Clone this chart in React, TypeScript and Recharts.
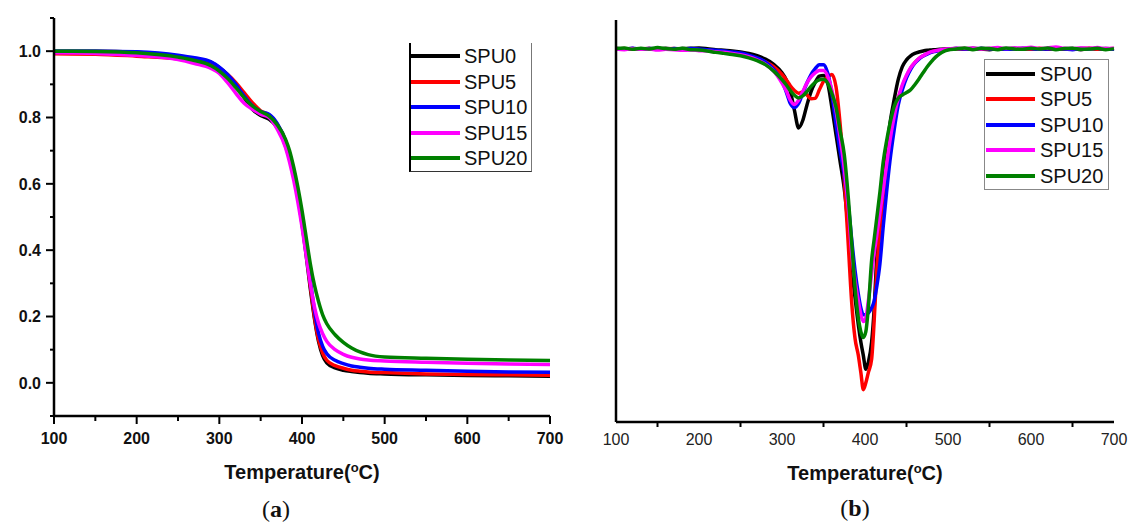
import { LineChart, Line, XAxis, YAxis, Legend } from "recharts";

const seriesNames = ["SPU0", "SPU5", "SPU10", "SPU15", "SPU20"];
const seriesColors = ["#000000", "#ff0000", "#0000ff", "#ff00ff", "#008000"];

// (a) TGA, residual mass fraction
const tgaTemps = [
  100, 150, 200, 250, 270, 290, 300, 310, 320, 330, 340, 350, 360, 370, 380,
  385, 390, 395, 400, 405, 410, 415, 420, 425, 430, 440, 450, 460, 470, 480,
  500, 550, 600, 650, 700,
];
const tgaSPU0 = [
  1.0, 1.0, 0.997, 0.985, 0.977, 0.966, 0.95, 0.928, 0.898, 0.86, 0.825, 0.806, 0.795, 0.77, 0.715,
  0.675, 0.625, 0.56, 0.48, 0.385, 0.285, 0.195, 0.125, 0.082, 0.06, 0.045, 0.038, 0.034, 0.031, 0.029,
  0.027, 0.024, 0.022, 0.021, 0.02,
];
const tgaSPU5 = [
  0.992, 0.991, 0.985, 0.977, 0.97, 0.958, 0.948, 0.93, 0.905, 0.875, 0.845, 0.82, 0.808, 0.78, 0.73,
  0.69, 0.64, 0.575, 0.495, 0.4, 0.295, 0.2, 0.13, 0.09, 0.068, 0.052, 0.044, 0.038, 0.035, 0.033,
  0.031, 0.027, 0.025, 0.024, 0.023,
];
const tgaSPU10 = [
  1.0, 1.0, 0.998, 0.988, 0.98, 0.968, 0.952, 0.93, 0.9, 0.865, 0.835, 0.818, 0.81, 0.782, 0.73,
  0.685, 0.635, 0.57, 0.495, 0.405, 0.31, 0.22, 0.15, 0.11, 0.088, 0.068, 0.058, 0.051, 0.047, 0.044,
  0.041, 0.038, 0.035, 0.033, 0.032,
];
const tgaSPU15 = [
  0.995, 0.993, 0.987, 0.975, 0.963, 0.948, 0.933, 0.905, 0.873, 0.843, 0.825, 0.81, 0.8, 0.765, 0.71,
  0.665, 0.61, 0.545, 0.47, 0.385, 0.3, 0.23, 0.18, 0.148, 0.125, 0.1, 0.086, 0.077, 0.072, 0.069,
  0.066, 0.062, 0.059, 0.057, 0.055,
];
const tgaSPU20 = [
  1.0, 0.999, 0.995, 0.982, 0.972, 0.956, 0.94, 0.918, 0.89, 0.86, 0.835, 0.818, 0.805, 0.778, 0.735,
  0.7, 0.65, 0.59, 0.52, 0.44, 0.36, 0.295, 0.245, 0.205, 0.178, 0.145, 0.122, 0.105, 0.093, 0.085,
  0.078, 0.074, 0.071, 0.069, 0.067,
];

// (b) DTG, derivative (arbitrary units, no scale shown)
const dtgTemps = [
  100, 110, 120, 130, 140, 150, 160, 170, 180, 190, 200, 210, 220, 230, 240, 250, 260, 270, 280, 290, 300,
  305, 310, 315, 320, 325, 330, 335, 340, 345, 350, 355, 360, 365, 370, 375, 380,
  384, 388, 392, 395, 398, 401, 404, 408, 411, 414, 418, 422, 426, 430,
  435, 440, 445, 450, 455, 460, 465, 470, 475, 480, 485, 490, 495, 500,
  510, 520, 530, 540, 550, 560, 570, 580, 590, 600, 610, 620, 630, 640, 650, 660, 670, 680, 690, 700,
];
const dtgSPU0 = [
  0.002, 0.0, 0.001, -0.001, 0.001, 0.0, 0.002, 0.0, 0.001, 0.002, 0.003, 0.001, -0.002, -0.004, -0.006, -0.009, -0.013, -0.02, -0.03, -0.045, -0.07,
  -0.09, -0.125, -0.18, -0.232, -0.21, -0.165, -0.125, -0.098, -0.08, -0.078, -0.1, -0.17, -0.25, -0.33, -0.41, -0.53,
  -0.64, -0.73, -0.81, -0.86, -0.9, -0.94, -0.92, -0.86, -0.765, -0.62, -0.51, -0.4, -0.3, -0.22,
  -0.15, -0.09, -0.052, -0.032, -0.02, -0.013, -0.009, -0.006, -0.004, -0.003, -0.002, -0.001, 0.0, 0.0,
  0.001, -0.001, 0.002, 0.0, -0.002, 0.001, 0.0, 0.002, -0.001, 0.001, 0.0, -0.001, 0.002, 0.0, 0.001, -0.002, 0.001, 0.0, 0.001, 0.0,
];
const dtgSPU5 = [
  0.0, 0.001, -0.001, 0.0, 0.001, -0.001, 0.0, 0.001, -0.001, 0.0, -0.002, -0.004, -0.007, -0.01, -0.013, -0.016, -0.021, -0.028, -0.038, -0.052, -0.075,
  -0.09, -0.108, -0.122, -0.13, -0.126, -0.135, -0.146, -0.145, -0.12, -0.095, -0.082, -0.075, -0.11, -0.22, -0.38, -0.58,
  -0.745, -0.85, -0.9, -0.95, -1.0, -0.98, -0.95, -0.91, -0.8, -0.66, -0.53, -0.43, -0.34, -0.27,
  -0.2, -0.145, -0.11, -0.08, -0.056, -0.04, -0.028, -0.02, -0.014, -0.009, -0.006, -0.004, -0.002, -0.001,
  0.0, 0.001, -0.001, 0.001, 0.0, 0.002, -0.001, 0.0, 0.001, -0.001, 0.002, 0.0, 0.001, -0.001, 0.0, 0.001, 0.002, -0.001, 0.0, 0.001,
];
const dtgSPU10 = [
  0.001, -0.001, 0.002, 0.0, 0.001, 0.0, -0.001, 0.001, 0.0, 0.001, 0.0, -0.002, -0.004, -0.006, -0.009, -0.012, -0.018, -0.026, -0.038, -0.06, -0.095,
  -0.125, -0.16, -0.172, -0.16, -0.13, -0.1, -0.075, -0.058, -0.046, -0.046, -0.07, -0.13, -0.22, -0.3, -0.37, -0.46,
  -0.56, -0.65, -0.72, -0.76, -0.78, -0.78, -0.775, -0.76, -0.74, -0.7, -0.63, -0.52, -0.42, -0.33,
  -0.24, -0.165, -0.12, -0.085, -0.06, -0.042, -0.03, -0.021, -0.015, -0.01, -0.007, -0.004, -0.002, -0.001,
  0.001, 0.0, -0.001, 0.002, 0.0, 0.001, -0.001, 0.0, 0.002, 0.001, -0.001, 0.0, 0.001, 0.0, -0.002, 0.001, 0.0, 0.002, -0.001, 0.0,
];
const dtgSPU15 = [
  0.0, -0.002, 0.001, -0.001, 0.0, -0.003, -0.001, -0.002, -0.004, -0.003, -0.005, -0.006, -0.008, -0.01, -0.013, -0.017, -0.023, -0.032, -0.045, -0.065, -0.1,
  -0.122, -0.15, -0.163, -0.15, -0.125, -0.1, -0.082, -0.07, -0.063, -0.063, -0.08, -0.12, -0.18, -0.26, -0.35, -0.47,
  -0.6, -0.68, -0.74, -0.78, -0.8, -0.79, -0.74, -0.66, -0.6, -0.55, -0.48, -0.41, -0.34, -0.27,
  -0.2, -0.145, -0.105, -0.077, -0.055, -0.04, -0.028, -0.02, -0.013, -0.008, -0.005, -0.003, -0.001, 0.0,
  0.002, 0.001, 0.003, 0.0, 0.002, 0.004, 0.001, 0.003, 0.002, 0.005, 0.001, 0.003, 0.006, 0.002, 0.001, 0.003, 0.002, 0.004, 0.001, 0.002,
];
const dtgSPU20 = [
  0.001, 0.003, -0.001, 0.002, 0.0, 0.004, 0.001, -0.001, 0.002, -0.002, -0.003, -0.006, -0.01, -0.013, -0.016, -0.02, -0.026, -0.034, -0.046, -0.065, -0.09,
  -0.105, -0.122, -0.136, -0.144, -0.138, -0.125, -0.11, -0.098, -0.091, -0.089, -0.1, -0.13, -0.17, -0.24, -0.31, -0.44,
  -0.57, -0.7, -0.79, -0.83, -0.847, -0.83, -0.76, -0.62, -0.56, -0.5, -0.42, -0.33, -0.27, -0.22,
  -0.17, -0.145, -0.135, -0.128, -0.12, -0.105, -0.088, -0.07, -0.052, -0.037, -0.024, -0.014, -0.007, -0.003,
  0.0, 0.003, -0.002, 0.002, 0.001, -0.002, 0.003, 0.0, -0.001, 0.002, 0.0, 0.003, -0.002, 0.001, 0.002, -0.001, 0.0, 0.002, -0.002, 0.001,
];

const tempTicks = [100, 150, 200, 250, 300, 350, 400, 450, 500, 550, 600, 650, 700];
const tgaYTicks = [-0.1, 0, 0.1, 0.2, 0.3, 0.4, 0.5, 0.6, 0.7, 0.8, 0.9, 1.0, 1.1];
const tgaYLabels = ["0.0", "0.2", "0.4", "0.6", "0.8", "1.0"];

const tgaSeries = [tgaSPU0, tgaSPU5, tgaSPU10, tgaSPU15, tgaSPU20];
const dtgSeries = [dtgSPU0, dtgSPU5, dtgSPU10, dtgSPU15, dtgSPU20];

const tgaData = tgaTemps.map((t, i) => {
  const row: Record<string, number> = { t };
  seriesNames.forEach((n, k) => (row[n] = tgaSeries[k][i]));
  return row;
});
const dtgData = dtgTemps.map((t, i) => {
  const row: Record<string, number> = { t };
  seriesNames.forEach((n, k) => (row[n] = dtgSeries[k][i]));
  return row;
});

const FONT = "Arial, 'Liberation Sans', sans-serif";
const axisLine = { stroke: "#000", strokeWidth: 2.5 };

const tgaXTick = (props: any) => {
  const { x, y, payload } = props;
  const major = payload.value % 100 === 0;
  return (
    <g>
      <line x1={x} x2={x} y1={y} y2={y + (major ? 8 : 5)} stroke="#000" strokeWidth={2} />
      {major && (
        <text x={x} y={y + 28} textAnchor="middle" fontSize={16} fontWeight={700} fontFamily={FONT} fill="#111">
          {payload.value}
        </text>
      )}
    </g>
  );
};

const dtgXTick = (props: any) => {
  const { x, y, payload } = props;
  const major = payload.value % 100 === 0;
  return (
    <g>
      {!major && <line x1={x} x2={x} y1={y} y2={y + 5} stroke="#000" strokeWidth={2} />}
      {major && (
        <text x={x} y={y + 23} textAnchor="middle" fontSize={16} fontFamily={FONT} fill="#222">
          {payload.value}
        </text>
      )}
    </g>
  );
};

const tgaYTick = (props: any) => {
  const { x, y, payload } = props;
  const label = tgaYLabels.find((l) => Math.abs(parseFloat(l) - payload.value) < 1e-6);
  return (
    <g>
      <line x1={x - (label ? 8 : 4)} x2={x} y1={y} y2={y} stroke="#000" strokeWidth={2} />
      {label && (
        <text x={x - 13} y={y} dy="0.36em" textAnchor="end" fontSize={16} fontWeight={700} fontFamily={FONT} fill="#111">
          {label}
        </text>
      )}
    </g>
  );
};

// legend rows follow the series order, not the library's alphabetical sort
const makeLegend = (opts: { w: number; h: number; first: number; gap: number; lineX: number; textX: number; border: any }) =>
  () => (
    <div style={{ position: "relative", width: opts.w, height: opts.h, boxSizing: "border-box", ...opts.border }}>
      {seriesNames.map((name, i) => (
        <div key={name} style={{ position: "absolute", left: 0, top: opts.first + i * opts.gap - 12, height: 24, width: opts.w }}>
          <div style={{ position: "absolute", left: opts.lineX, top: 10, width: 49, height: 4, background: seriesColors[i] }} />
          <span style={{ position: "absolute", left: opts.textX, top: 0, fontSize: 20, lineHeight: "24px", fontFamily: FONT, color: "#111" }}>
            {name}
          </span>
        </div>
      ))}
    </div>
  );

const legendA = makeLegend({
  w: 123, h: 129, first: 13, gap: 25.5, lineX: 0, textX: 53,
  border: { borderLeft: "2px solid #000", borderRight: "1px solid #777", borderBottom: "1.5px solid #333" },
});
const legendB = makeLegend({
  w: 125, h: 131, first: 13.5, gap: 25.6, lineX: 1, textX: 55,
  border: { border: "1px solid #888" },
});

const titleStyle = (cx: number, cy: number): any => ({
  position: "absolute", left: cx, top: cy, transform: "translate(-50%, -50%)",
  fontFamily: FONT, fontSize: 20, fontWeight: 700, color: "#111", whiteSpace: "nowrap",
});
const panelStyle = (cx: number, cy: number): any => ({
  position: "absolute", left: cx, top: cy, transform: "translate(-50%, -50%)",
  fontFamily: "'Liberation Serif', 'Times New Roman', serif", fontSize: 24, color: "#111", whiteSpace: "nowrap",
});

export default function App() {
  return (
    <div style={{ position: "absolute", left: 0, top: 0, width: 1129, height: 525, background: "#fff", overflow: "hidden" }}>
      <div style={{ position: "absolute", left: 0, top: 0 }}>
        <LineChart width={565} height={525} data={tgaData} margin={{ top: 18, right: 15, bottom: 0, left: 0 }}>
          <XAxis dataKey="t" type="number" domain={[100, 700]} ticks={tempTicks} interval={0} height={109}
            tickSize={0} tickMargin={0} tickLine={false} axisLine={axisLine} tick={tgaXTick} />
          <XAxis xAxisId="top" dataKey="t" type="number" domain={[100, 700]} orientation="top" height={0}
            tick={false} tickLine={false} axisLine={axisLine} />
          <YAxis type="number" domain={[-0.1, 1.1]} ticks={tgaYTicks} interval={0} width={54}
            tickSize={0} tickMargin={0} tickLine={false} axisLine={axisLine} tick={tgaYTick} />
          <YAxis yAxisId="r" orientation="right" type="number" domain={[-0.1, 1.1]} width={0}
            tick={false} tickLine={false} axisLine={axisLine} />
          {seriesNames.map((n, k) => (
            <Line key={n} type="monotone" dataKey={n} stroke={seriesColors[k]} strokeWidth={3.5} dot={false} isAnimationActive={false} />
          ))}
          <Legend layout="horizontal" verticalAlign="middle" align="center" content={legendA}
            wrapperStyle={{ left: 409, top: 43, width: 123, height: 129 }} />
        </LineChart>
      </div>
      <div style={{ position: "absolute", left: 565, top: 0 }}>
        <LineChart width={564} height={525} data={dtgData} margin={{ top: 20, right: 15, bottom: 0, left: 0 }}>
          <XAxis dataKey="t" type="number" domain={[100, 700]} ticks={tempTicks} interval={0} height={103}
            tickSize={0} tickMargin={0} tickLine={false} axisLine={axisLine} tick={dtgXTick} />
          <XAxis xAxisId="top" dataKey="t" type="number" domain={[100, 700]} orientation="top" height={0}
            tick={false} tickLine={false} axisLine={axisLine} />
          <YAxis type="number" domain={[-1.095, 0.085]} width={51} tick={false} tickLine={false} axisLine={axisLine} />
          <YAxis yAxisId="r" orientation="right" type="number" domain={[-1.095, 0.085]} width={0}
            tick={false} tickLine={false} axisLine={axisLine} />
          {seriesNames.map((n, k) => (
            <Line key={n} type="monotone" dataKey={n} stroke={seriesColors[k]} strokeWidth={3.5} dot={false} isAnimationActive={false} />
          ))}
          <Legend layout="horizontal" verticalAlign="middle" align="center" content={legendB}
            wrapperStyle={{ left: 419, top: 59, width: 125, height: 131 }} />
        </LineChart>
      </div>
      <div style={titleStyle(302, 472)}>
        Temperature(<sup style={{ fontSize: 13, verticalAlign: "7px" }}>o</sup>C)
      </div>
      <div style={titleStyle(865, 473)}>
        Temperature(<sup style={{ fontSize: 13, verticalAlign: "7px" }}>o</sup>C)
      </div>
      <div style={panelStyle(276, 509)}>
        (<b>a</b>)
      </div>
      <div style={panelStyle(855, 508)}>
        (<b>b</b>)
      </div>
    </div>
  );
}
